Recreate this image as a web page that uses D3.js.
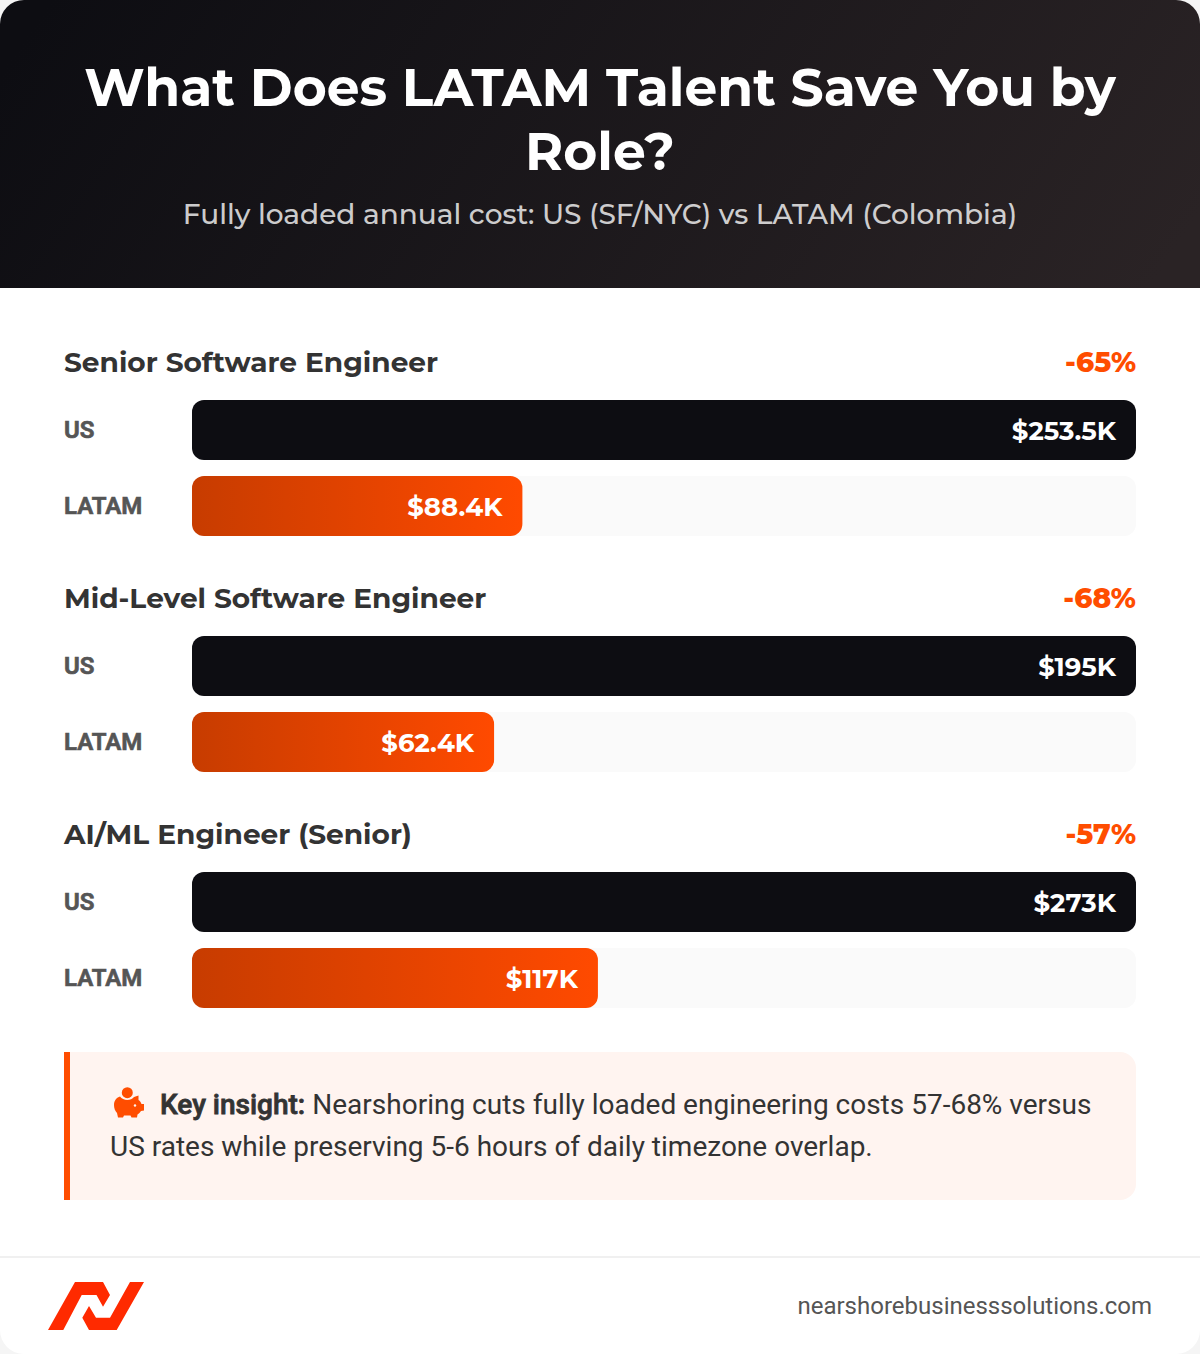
<!DOCTYPE html>
<html><head><meta charset="utf-8">
<script src="https://cdn.jsdelivr.net/npm/d3@7"></script>
<style>
html,body{margin:0;padding:0;background:#f5f5f5}
svg{display:block}
</style></head><body>
<svg id="c" width="1200" height="1354"></svg>
<script>
const roles = ["Senior Software Engineer","Mid-Level Software Engineer","AI/ML Engineer (Senior)"];
const savingsPct = [-65,-68,-57];
const seriesLabels = ["US","LATAM"];
const usLabels = ["$253.5K","$195K","$273K"];
const latamLabels = ["$88.4K","$62.4K","$117K"];
const titleLines = ["What Does LATAM Talent Save You by","Role?"];
const subtitle = "Fully loaded annual cost: US (SF/NYC) vs LATAM (Colombia)";
const insightBold = "Key insight:";
const insightLines = ["Nearshoring cuts fully loaded engineering costs 57-68% versus","US rates while preserving 5-6 hours of daily timezone overlap."];
const siteLabel = "nearshorebusinesssolutions.com";

const HEAD = "Montserrat, Inter, sans-serif", BODY = "Roboto, sans-serif";
const svg = d3.select("#c");
const defs = svg.append("defs");
const hg = defs.append("linearGradient").attr("id","hg").attr("gradientUnits","userSpaceOnUse")
  .attr("x1",156).attr("y1",-156).attr("x2",1044).attr("y2",444);
hg.append("stop").attr("offset",0).attr("stop-color","#0d0d12");
hg.append("stop").attr("offset",1).attr("stop-color","#2a2325");
const og = defs.append("linearGradient").attr("id","og");
og.append("stop").attr("offset",0).attr("stop-color","#c73c00");
og.append("stop").attr("offset",1).attr("stop-color","#ff4a00");

// card
svg.append("rect").attr("width",1200).attr("height",1354).attr("rx",24).attr("fill","#fff");

// header
svg.append("path").attr("fill","url(#hg)")
  .attr("d","M0,288V24A24,24 0 0 1 24,0H1176A24,24 0 0 1 1200,24V288Z");
svg.selectAll(".tl").data(titleLines).join("text").attr("class","tl")
  .attr("x",600).attr("y",(d,i)=>106+i*64).attr("text-anchor","middle")
  .attr("font-family",HEAD).attr("font-weight",700).attr("font-size",52).attr("fill","#fff").text(d=>d);
svg.append("text").attr("x",600).attr("y",224).attr("text-anchor","middle")
  .attr("font-family",HEAD).attr("font-weight",500).attr("font-size",28).attr("fill","#fff").attr("fill-opacity",.8).text(subtitle);

// groups: each bar is a share of the US cost in its role
const x0 = 192, x1 = 1136;
const x = d3.scaleLinear().domain([0,100]).range([x0,x1]);
const groupY = d3.scaleLinear().domain([0,1]).range([0,236]);
roles.forEach((role,i)=>{
  const g = svg.append("g").attr("transform",`translate(0,${groupY(i)})`);
  g.append("text").attr("x",64).attr("y",372).attr("font-family",HEAD).attr("font-weight",700)
    .attr("font-size",28).attr("fill","#333").text(role);
  g.append("text").attr("x",1136).attr("y",372).attr("text-anchor","end").attr("font-family",HEAD).attr("font-weight",800)
    .attr("font-size",28).attr("fill","#ff4d00").text(savingsPct[i]+"%");
  const vals = [100,100+savingsPct[i]];
  const labs = [usLabels[i],latamLabels[i]];
  vals.forEach((v,j)=>{
    const y = 400 + j*76;
    g.append("text").attr("x",64).attr("y",y+38).attr("font-family",BODY).attr("font-weight",600)
      .attr("font-size",24).attr("fill","#555").attr("stroke","#555").attr("stroke-width",.7).text(seriesLabels[j]);
    g.append("rect").attr("x",x0).attr("y",y).attr("width",x1-x0).attr("height",60).attr("rx",12).attr("fill","#fafafa");
    g.append("rect").attr("x",x0).attr("y",y).attr("width",x(v)-x0).attr("height",60).attr("rx",12)
      .attr("fill",j===0?"#0d0d12":"url(#og)");
    g.append("text").attr("x",x(v)-20).attr("y",y+40).attr("text-anchor","end").attr("font-family",HEAD)
      .attr("font-weight",700).attr("font-size",26).attr("fill","#fff").text(labs[j]);
  });
});

// insight
svg.append("path").attr("fill","#fff4f0").attr("d","M64,1052H1120A16,16 0 0 1 1136,1068V1184A16,16 0 0 1 1120,1200H64Z");
svg.append("rect").attr("x",64).attr("y",1052).attr("width",6).attr("height",148).attr("fill","#ff4d00");
const ic = svg.append("g").attr("fill","#ff4d00");
ic.append("circle").attr("cx",127.3).attr("cy",1092.7).attr("r",5.5);
ic.append("path").attr("d","M114,1105C114,1100 117,1097.5 120,1096.5C123,1101 131,1101 134,1097L138.5,1095.5L138.5,1100C140,1101 141,1102.5 141.5,1104L144,1104V1110.5L141,1111C140,1112.5 139,1113.5 137.5,1114.5L137,1117.5H131.5L130.5,1115.5H124L123,1117.5H118L117,1113C115,1111 114,1108 114,1105Z");
ic.append("circle").attr("cx",135).attr("cy",1105.5).attr("r",1.2).attr("fill","#fff4f0");
svg.append("text").attr("x",160).attr("y",1114).attr("font-family",BODY).attr("font-size",28).attr("fill","#333")
  .attr("font-weight",500).attr("stroke","#333").attr("stroke-width",.8).text(insightBold);
svg.append("text").attr("x",312.3).attr("y",1114).attr("font-family",BODY).attr("font-size",28).attr("fill","#333").text(insightLines[0]);
svg.append("text").attr("x",110).attr("y",1156).attr("font-family",BODY).attr("font-size",28).attr("fill","#333").text(insightLines[1]);

// footer
svg.append("rect").attr("x",0).attr("y",1256).attr("width",1200).attr("height",2).attr("fill","#f0f0f0");
svg.append("path").attr("fill","#ff2a00")
  .attr("d","M48,1330L75,1282H103L110,1295L103,1306.7L96.5,1295H81.7L63.3,1330ZM144,1282L116.7,1330H89L82.3,1317.7L89,1306L96,1317.7H110L130,1282Z");
svg.append("text").attr("x",1152).attr("y",1314).attr("text-anchor","end").attr("font-family",BODY)
  .attr("font-size",24).attr("fill","#555").text(siteLabel);
</script>
</body></html>
